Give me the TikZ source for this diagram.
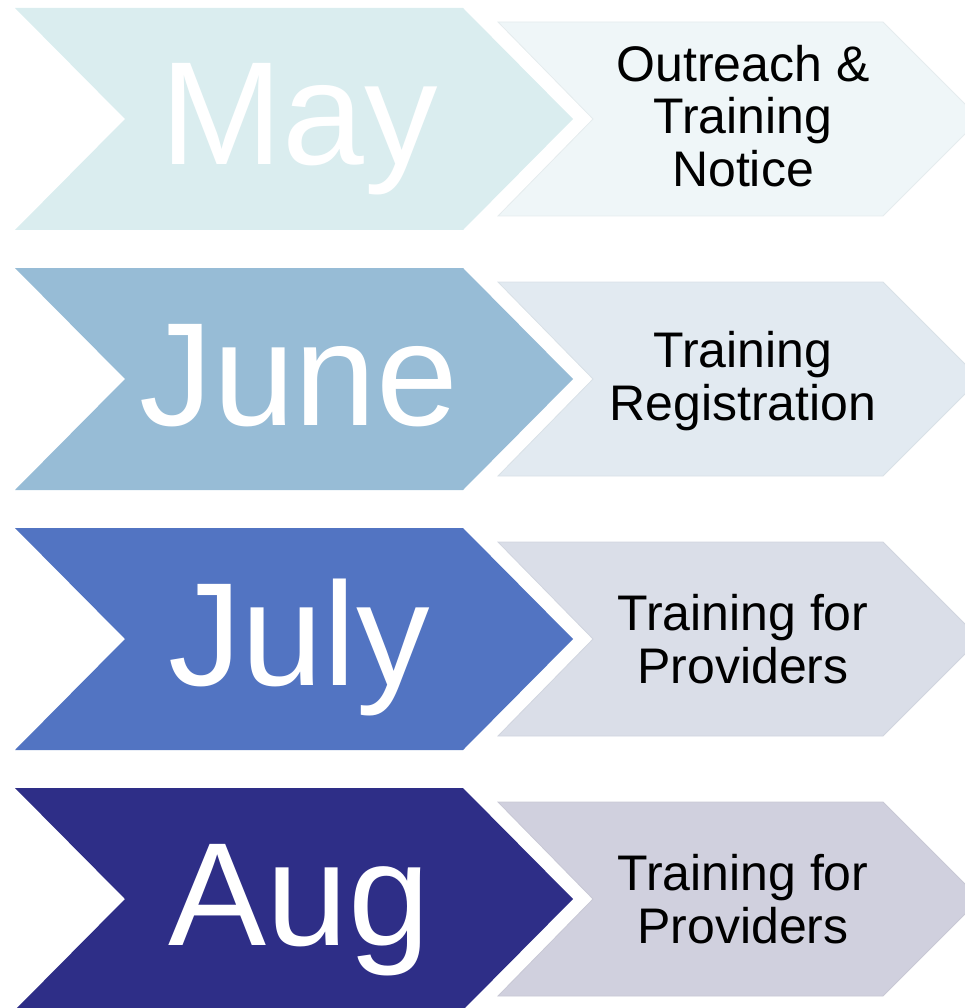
\documentclass[tikz,border=0pt]{standalone}
\usepackage{fontspec}
\setmainfont{Liberation Sans}
\definecolor{bigA}{HTML}{DAEDEF}
\definecolor{smlA}{HTML}{EFF6F8}
\definecolor{bigB}{HTML}{97BCD6}
\definecolor{smlB}{HTML}{E2EAF1}
\definecolor{bigC}{HTML}{5274C2}
\definecolor{smlC}{HTML}{DADEE8}
\definecolor{bigD}{HTML}{2E2E87}
\definecolor{smlD}{HTML}{D0D0DE}
\tikzset{
  month/.style={text=white, anchor=base, inner sep=0pt, font=\fontsize{147}{150}\selectfont},
  task/.style={text=black, anchor=center, align=center, inner sep=0pt, font=\fontsize{50}{52.5}\selectfont},
  bigchev/.style={draw=none},
  smlchev/.style={line width=0.8pt}
}
\begin{document}
\begin{tikzpicture}[x=1pt,y=-1pt]
\useasboundingbox (0,0) rectangle (965,1008);
\clip (0,0) rectangle (965,1008);
\foreach \i/\bc/\sc in {0/bigA/smlA,1/bigB/smlB,2/bigC/smlC,3/bigD/smlD}{
  \pgfmathsetmacro{\o}{260*\i}
  \fill[\sc, draw=\sc!96!black, smlchev] (498,22+\o) -- (883,22+\o) -- (980,119+\o) -- (883,216+\o) -- (498,216+\o) -- (593,119+\o) -- cycle;
  \fill[\bc, bigchev] (15,8+\o) -- (463,8+\o) -- (573,119+\o) -- (463,230+\o) -- (15,230+\o) -- (125,119+\o) -- cycle;
}
\node[month] (may) at (299,165) {May};
\node[month] (june) at (299,425) {June};
\node[month] (july) at (299,685) {July};
\node[month] (aug) at (299,945) {Aug};
\node[task] (t1) at (743,116) {Outreach \&\\Training\\Notice};
\node[task] (t2) at (743,381) {Training\\Registration};
\node[task] (t3) at (743,639) {Training for\\Providers};
\node[task] (t4) at (743,899) {Training for\\Providers};
\end{tikzpicture}
\end{document}
